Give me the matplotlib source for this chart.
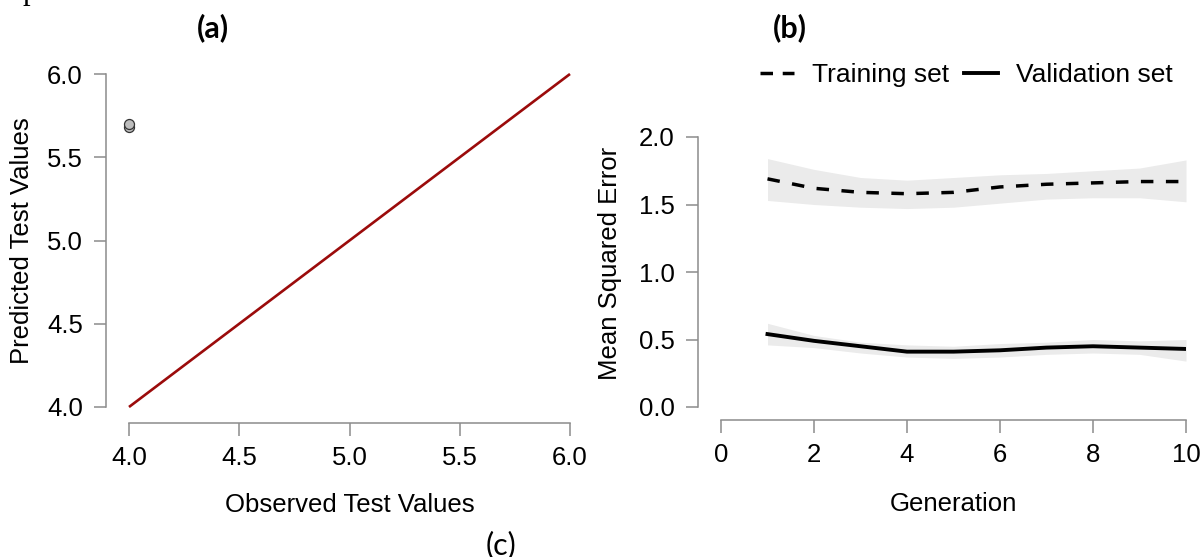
import matplotlib
matplotlib.use("Agg")
import matplotlib.pyplot as plt
from matplotlib.lines import Line2D

# ---------------- data ----------------
obs_test = [4.0, 4.0]
pred_test = [5.68, 5.70]
ident_x = [4.0, 6.0]
ident_y = [4.0, 6.0]
ab_ticks = [4.0, 4.5, 5.0, 5.5, 6.0]

generation = [1, 2, 3, 4, 5, 6, 7, 8, 9, 10]
train_mse = [1.69, 1.62, 1.59, 1.58, 1.59, 1.63, 1.65, 1.66, 1.67, 1.67]
train_lo = [1.53, 1.50, 1.48, 1.47, 1.48, 1.51, 1.54, 1.55, 1.55, 1.52]
train_hi = [1.84, 1.76, 1.70, 1.68, 1.70, 1.72, 1.73, 1.75, 1.77, 1.83]
valid_mse = [0.54, 0.49, 0.45, 0.41, 0.41, 0.42, 0.44, 0.45, 0.44, 0.43]
valid_lo = [0.46, 0.44, 0.40, 0.37, 0.36, 0.37, 0.39, 0.40, 0.39, 0.34]
valid_hi = [0.62, 0.53, 0.48, 0.46, 0.45, 0.47, 0.48, 0.50, 0.49, 0.50]
mse_yticks = [0.0, 0.5, 1.0, 1.5, 2.0]
gen_xticks = [0, 2, 4, 6, 8, 10]

# ---------------- figure ----------------
W, H = 1201, 557
DPI = 100
fig = plt.figure(figsize=(W / DPI, H / DPI), dpi=DPI)
plt.rcParams['font.family'] = ['Liberation Sans', 'DejaVu Sans']

PX = 72.0 / DPI  # points per pixel
FS = 18.5
AXCOL = '#8c8c8c'


def px_axes(l, r, t, b):
    return fig.add_axes([l / W, 1 - b / H, (r - l) / W, (b - t) / H])


def style(ax, xb, yb, left_off, bottom_off, xticks, yticks, fmt_x, fmt_y):
    for s in ('top', 'right'):
        ax.spines[s].set_visible(False)
    ax.spines['left'].set_position(('outward', left_off * PX))
    ax.spines['bottom'].set_position(('outward', bottom_off * PX))
    ax.spines['left'].set_bounds(*yb)
    ax.spines['bottom'].set_bounds(*xb)
    for s in ('left', 'bottom'):
        ax.spines[s].set_color(AXCOL)
        ax.spines[s].set_linewidth(1.1)
    ax.set_xticks(xticks)
    ax.set_yticks(yticks)
    ax.set_xticklabels([fmt_x.format(v) for v in xticks])
    ax.set_yticklabels([fmt_y.format(v) for v in yticks])
    ax.tick_params(axis='both', colors=AXCOL, labelcolor='black',
                   labelsize=FS, width=1.1)
    ax.tick_params(axis='x', length=13 * PX, pad=7)
    ax.tick_params(axis='y', length=12 * PX, pad=8)
    ax.patch.set_visible(False)


# ---- panel (a) ----
axa = px_axes(129, 570, 74, 407)
axa.set_xlim(4.0, 6.0)
axa.set_ylim(4.0, 6.0)
axa.plot(ident_x, ident_y, color='#9b0b0b', lw=1.9, clip_on=False,
         solid_capstyle='butt')
axa.plot(obs_test, pred_test, 'o', ms=7.2, mfc='#bdbdbd', mec='#333333',
         mew=0.9, clip_on=False)
style(axa, (4, 6), (4, 6), 23, 16, ab_ticks, ab_ticks, '{:.1f}', '{:.1f}')
axa.set_xlabel('Observed Test Values', fontsize=FS)
axa.set_ylabel('Predicted Test Values', fontsize=FS)
axa.xaxis.set_label_coords(0.5, (407 - 505) / 333, transform=axa.transAxes)
axa.xaxis.label.set_va('center')
axa.yaxis.set_label_coords((22 - 129) / 441, 0.5, transform=axa.transAxes)
axa.yaxis.label.set_va('center')

# ---- panel (b) ----
axb = px_axes(721, 1186, 137, 407)
axb.set_xlim(0, 10)
axb.set_ylim(0, 2)
band = '#ebebeb'
axb.fill_between(generation, train_lo, train_hi, color=band, lw=0)
axb.fill_between(generation, valid_lo, valid_hi, color=band, lw=0)
axb.plot(generation, train_mse, color='black', lw=2.5, ls=(0, (3.6, 3.6)),
         dash_capstyle='butt')
axb.plot(generation, valid_mse, color='black', lw=2.8)
style(axb, (0, 10), (0, 2), 23, 13, gen_xticks, mse_yticks, '{:d}', '{:.1f}')
axb.set_xlabel('Generation', fontsize=FS)
axb.set_ylabel('Mean Squared Error', fontsize=FS)
axb.xaxis.set_label_coords(0.5, (407 - 504) / 270, transform=axb.transAxes)
axb.xaxis.label.set_va('center')
axb.yaxis.set_label_coords((610 - 721) / 465, (407 - 263) / 270,
                           transform=axb.transAxes)
axb.yaxis.label.set_va('center')

LFS = 19
handles = [Line2D([], [], color='black', lw=2.5, ls=(0, (3.6, 2.8)),
                  dash_capstyle='butt'),
           Line2D([], [], color='black', lw=2.8)]
fig.legend(handles, ['Training set', 'Validation set'], ncol=2,
           loc='center left', bbox_to_anchor=(760 / W, 1 - 75 / H),
           frameon=False, fontsize=LFS, handlelength=1.3, handletextpad=0.68,
           columnspacing=0.55, borderpad=0, borderaxespad=0)

# ---- panel letters ----
lab_font = ['Lato', 'DejaVu Sans']
fig.text(213 / W, 1 - 28 / H, '(a)', ha='center', va='center',
         fontsize=22, fontweight='bold', family=lab_font)
fig.text(790 / W, 1 - 28 / H, '(b)', ha='center', va='center',
         fontsize=22, fontweight='bold', family=lab_font)
fig.text(501 / W, 1 - 545 / H, '(c)', ha='center', va='center',
         fontsize=22, family=lab_font)
fig.text(30 / W, 1 + 1 / H, 'p', ha='center', va='baseline',
         fontsize=22, family=['Liberation Serif', 'DejaVu Serif'])

fig.savefig('out.png', dpi=DPI)
